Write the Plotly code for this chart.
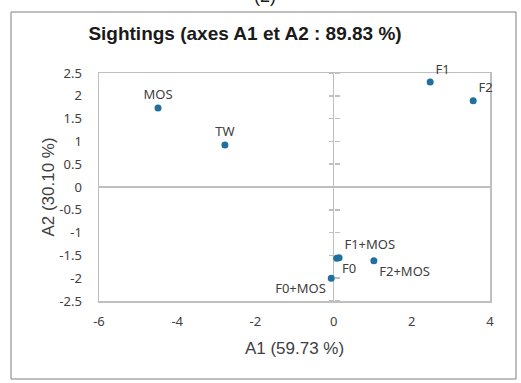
import plotly.graph_objects as go

labels = ["MOS", "TW", "F1", "F2", "F1+MOS", "F0", "F2+MOS", "F0+MOS"]
a1 = [-4.49, -2.78, 2.47, 3.57, 0.14, 0.08, 1.03, -0.06]
a2 = [1.73, 0.92, 2.30, 1.89, -1.55, -1.56, -1.62, -2.00]
text_pos = ["top center", "top center", "top right", "top right",
            "top right", "bottom right", "bottom right", "bottom left"]

x_ticks = [-6, -4, -2, 0, 2, 4]
x_tick_text = ["-6", "-4", "-2", "0", "2", "4"]
y_ticks = [-2.5, -2, -1.5, -1, -0.5, 0, 0.5, 1, 1.5, 2, 2.5]
y_tick_text = ["-2.5", "-2", "-1.5", "-1", "-0.5", "0", "0.5", "1", "1.5", "2", "2.5"]

W, H = 521, 383
ml, mr, mt, mb = 99, 31, 73, 82
pw, ph = W - ml - mr, H - mt - mb

fig = go.Figure()
fig.add_trace(go.Scatter(
    x=a1, y=a2, mode="markers+text", text=labels, textposition=text_pos,
    marker=dict(color="#1f6f9f", size=7),
    textfont=dict(family="Noto Sans, Open Sans, sans-serif", size=13, color="#404040"),
    cliponaxis=False, showlegend=False, hoverinfo="skip",
))
# invisible traces to hold the crossing-tick axes on the zero line
fig.add_trace(go.Scatter(x=[None], y=[None], yaxis="y2", showlegend=False, hoverinfo="skip"))
fig.add_trace(go.Scatter(x=[None], y=[None], yaxis="y3", showlegend=False, hoverinfo="skip"))

grey = "#bfbfbf"
tickfont = dict(family="Noto Sans, Open Sans, sans-serif", size=13, color="#404040")
titlefont = dict(family="Liberation Sans, Arial, sans-serif", size=17, color="#404040")
fig.update_layout(
    width=W, height=H,
    margin=dict(l=ml, r=mr, t=mt, b=mb),
    paper_bgcolor="white", plot_bgcolor="white",
    title=dict(text="<b>Sightings (axes A1 et A2 : 89.83 %)</b>",
               font=dict(family="Liberation Sans, Arial, sans-serif", size=19, color="#1a1a1a"),
               x=(245 - ml) / pw, xref="paper", xanchor="center",
               y=1 - 33 / H, yref="container", yanchor="middle"),
    xaxis=dict(range=[x_ticks[0], x_ticks[-1]], tickvals=x_ticks, ticktext=x_tick_text,
               showgrid=False,
               zeroline=True, zerolinecolor=grey, zerolinewidth=1.5,
               showline=True, mirror=True, linecolor=grey, linewidth=1.5,
               layer="below traces",
               ticks="outside", ticklen=8, tickcolor="rgba(0,0,0,0)",
               tickfont=tickfont,
               title=dict(text="A1 (59.73 %)", standoff=13, font=titlefont)),
    yaxis=dict(range=[y_ticks[0], y_ticks[-1]], tickvals=y_ticks, ticktext=y_tick_text,
               showgrid=False,
               zeroline=True, zerolinecolor=grey, zerolinewidth=1.5,
               showline=True, mirror=True, linecolor=grey, linewidth=1.5,
               layer="below traces",
               ticks="outside", ticklen=13, tickcolor="rgba(0,0,0,0)",
               tickfont=tickfont,
               title=dict(text="A2 (30.10 %)", standoff=0, font=titlefont)),
    yaxis2=dict(range=[y_ticks[0], y_ticks[-1]], tickvals=y_ticks, overlaying="y",
                anchor="free", position=0.6, side="left", showgrid=False, zeroline=False,
                showline=False, ticks="outside", ticklen=5, tickcolor=grey, tickwidth=1.5,
                showticklabels=False, layer="below traces"),
    yaxis3=dict(range=[y_ticks[0], y_ticks[-1]], tickvals=y_ticks, overlaying="y",
                anchor="free", position=0.6, side="right", showgrid=False, zeroline=False,
                showline=False, ticks="outside", ticklen=5, tickcolor=grey, tickwidth=1.5,
                showticklabels=False, layer="below traces"),
)

# outer chart frame
fig.add_shape(type="rect", xref="paper", yref="paper",
              x0=(11 - ml) / pw, x1=(516 - ml) / pw,
              y0=(H - mb - 379) / ph, y1=1 + (mt - 12) / ph,
              line=dict(color="#7f7f7f", width=1), fillcolor="rgba(0,0,0,0)", layer="below")
# partially cropped panel label above the chart
fig.add_annotation(text="(2)", xref="paper", yref="paper",
                   x=(265 - ml) / pw, y=1 + (mt + 4) / ph, yanchor="middle",
                   showarrow=False,
                   font=dict(family="Liberation Sans, Arial, sans-serif", size=18, color="#1a1a1a"))

fig.write_html("out.html",
               config={"displayModeBar": False, "staticPlot": True},
               post_script="document.body.style.margin='0';document.body.style.padding='0';")
